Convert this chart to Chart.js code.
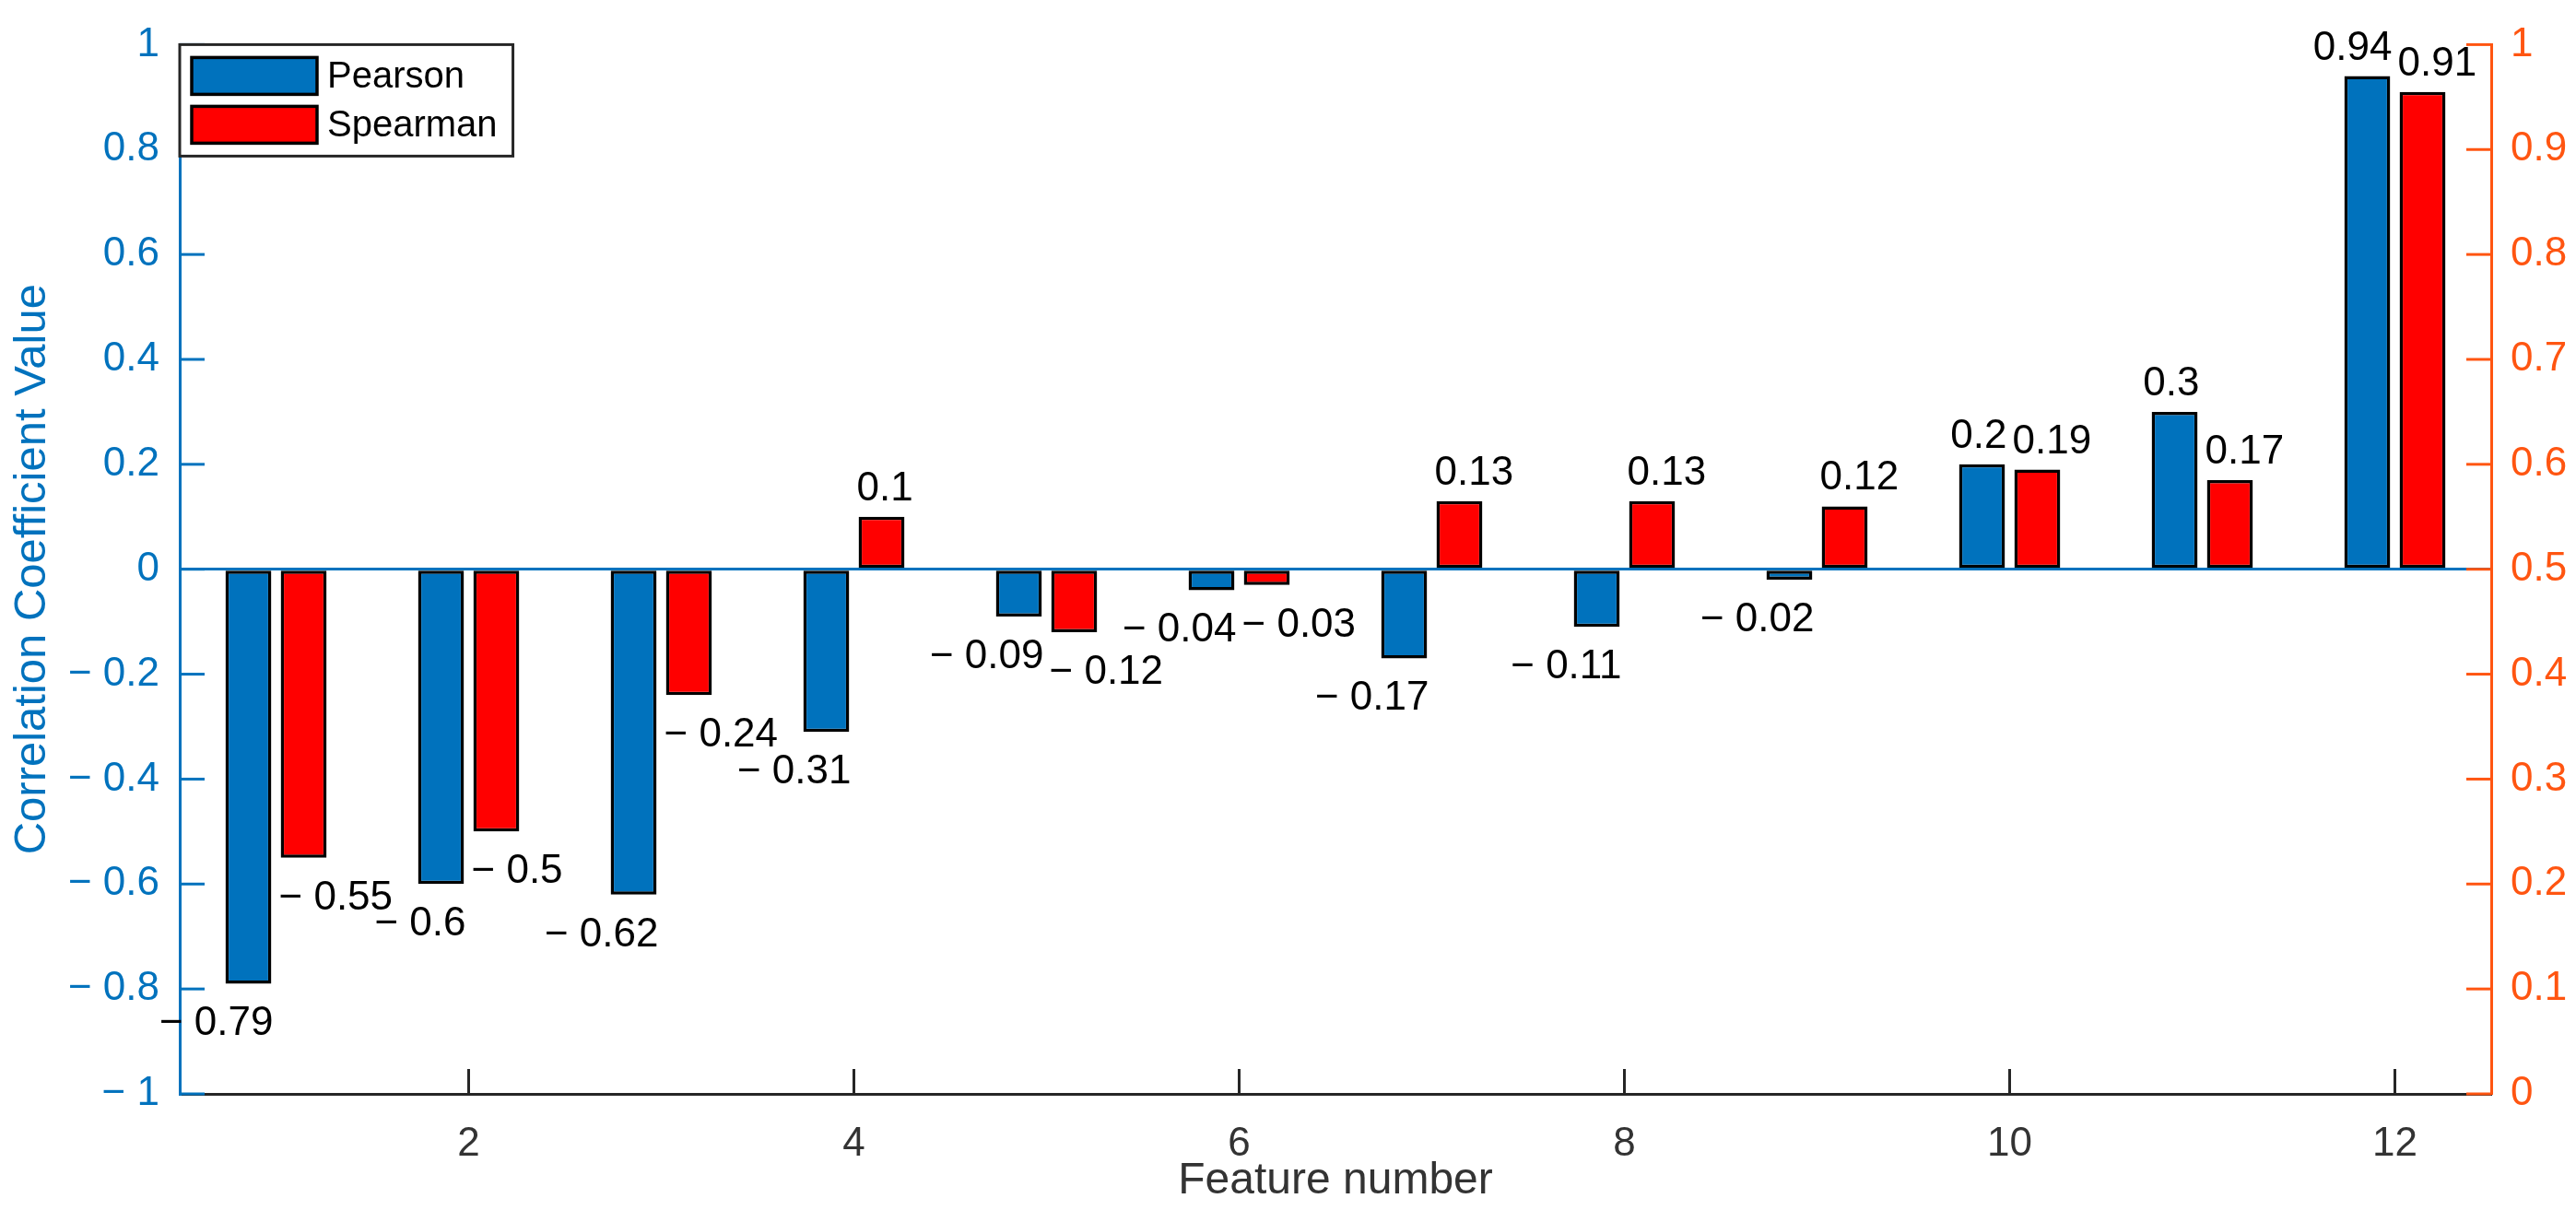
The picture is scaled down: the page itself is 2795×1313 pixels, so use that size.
<!DOCTYPE html>
<html>
<head>
<meta charset="utf-8">
<script src="https://cdn.jsdelivr.net/npm/chart.js@4.4.0/dist/chart.umd.min.js"></script>
<style>
  html, body { margin: 0; padding: 0; background: #fff; }
  #wrap { width: 2795px; height: 1313px; }
</style>
</head>
<body>
<div id="wrap"><canvas id="myChart" width="2795" height="1313"></canvas></div>
<script>
var features = ['1', '2', '3', '4', '5', '6', '7', '8', '9', '10', '11', '12'];
var pearson = [-0.79, -0.6, -0.62, -0.31, -0.09, -0.04, -0.17, -0.11, -0.02, 0.2, 0.3, 0.94];
var spearman = [-0.55, -0.5, -0.24, 0.1, -0.12, -0.03, 0.13, 0.13, 0.12, 0.19, 0.17, 0.91];
var leftTicks = [-1, -0.8, -0.6, -0.4, -0.2, 0, 0.2, 0.4, 0.6, 0.8, 1];
var rightTicks = [0, 0.1, 0.2, 0.3, 0.4, 0.5, 0.6, 0.7, 0.8, 0.9, 1];

var BLUE = '#0072BD';
var ORANGE = '#FF5511';
var AXIS = '#262626';

Chart.defaults.font.family = "'Liberation Sans', Arial, sans-serif";

function fmt(v) {
    v = Math.round(v * 100) / 100;
    if (v < 0) return '\u2212 ' + Math.abs(v);
    return String(v);
}

// MATLAB style: ticks point into the plot
var innerTicks = {
    id: 'innerTicks',
    afterDraw: function (chart) {
        var ctx = chart.ctx, a = chart.chartArea, len = 27;
        ctx.save();
        ctx.lineWidth = 3;
        function seg(x1, y1, x2, y2) {
            ctx.beginPath(); ctx.moveTo(x1, y1); ctx.lineTo(x2, y2); ctx.stroke();
        }
        var sx = chart.scales.x;
        ctx.strokeStyle = AXIS;
        sx.ticks.forEach(function (t, i) {
            if ((i + 1) % 2) return;
            var px = sx.getPixelForTick(i);
            seg(px, a.bottom, px, a.bottom - len);
        });
        ctx.strokeStyle = BLUE;
        chart.scales.y.ticks.forEach(function (t) {
            var py = chart.scales.y.getPixelForValue(t.value);
            seg(a.left, py, a.left + len, py);
        });
        ctx.strokeStyle = ORANGE;
        chart.scales.y2.ticks.forEach(function (t) {
            var py = chart.scales.y2.getPixelForValue(t.value);
            seg(a.right, py, a.right - len, py);
        });
        ctx.restore();
    }
};

// value labels: Pearson ones end at the group centre, Spearman ones start there
var valueLabels = {
    id: 'valueLabels',
    afterDatasetsDraw: function (chart) {
        var ctx = chart.ctx, sx = chart.scales.x;
        ctx.save();
        ctx.font = "44px 'Liberation Sans', Arial, sans-serif";
        ctx.fillStyle = '#000';
        ctx.textBaseline = 'alphabetic';
        chart.data.datasets.forEach(function (ds, di) {
            chart.getDatasetMeta(di).data.forEach(function (bar, i) {
                var v = ds.data[i];
                var cx = sx.getPixelForValue(i);
                var y = v >= 0 ? bar.y - 18 : bar.y + 56;
                ctx.textAlign = di === 0 ? 'right' : 'left';
                ctx.fillText(fmt(v), di === 0 ? cx - 3 : cx + 3, y);
            });
        });
        ctx.restore();
    }
};

var boxLegend = {
    id: 'boxLegend',
    afterDraw: function (chart) {
        var ctx = chart.ctx, a = chart.chartArea;
        var x0 = a.left, y0 = a.top;
        ctx.save();
        ctx.font = "40px 'Liberation Sans', Arial, sans-serif";
        var tw = 0;
        chart.data.datasets.forEach(function (ds) { tw = Math.max(tw, ctx.measureText(ds.label).width); });
        var w = 13 + 136 + 11 + tw + 17, h = 121;
        ctx.fillStyle = '#fff';
        ctx.fillRect(x0, y0, w, h);
        ctx.lineWidth = 3;
        ctx.strokeStyle = AXIS;
        ctx.strokeRect(x0, y0, w, h);
        chart.data.datasets.forEach(function (ds, i) {
            var sy = y0 + 14 + i * 53;
            ctx.fillStyle = ds.backgroundColor;
            ctx.fillRect(x0 + 13, sy, 136, 40);
            ctx.lineWidth = 3.5;
            ctx.strokeStyle = '#000';
            ctx.strokeRect(x0 + 13, sy, 136, 40);
            ctx.fillStyle = '#000';
            ctx.textBaseline = 'middle';
            ctx.textAlign = 'left';
            ctx.fillText(ds.label, x0 + 160, sy + 22);
        });
        ctx.restore();
    }
};

var ctx = document.getElementById('myChart');
var myChart = new Chart(ctx, {
    type: 'bar',
    data: {
        labels: features,
        datasets: [{
            label: 'Pearson',
            data: pearson,
            backgroundColor: BLUE,
            borderColor: '#000',
            borderWidth: 3.5,
            borderSkipped: false,
            yAxisID: 'y'
        }, {
            label: 'Spearman',
            data: spearman,
            backgroundColor: '#FF0000',
            borderColor: '#000',
            borderWidth: 3.5,
            borderSkipped: false,
            yAxisID: 'y'
        }]
    },
    options: {
        responsive: false,
        animation: false,
        devicePixelRatio: 1,
        categoryPercentage: 0.574,
        barPercentage: 0.83,
        layout: { padding: { top: 33, left: 0, right: 0, bottom: 0 } },
        plugins: {
            legend: { display: false },
            tooltip: { enabled: false }
        },
        scales: {
            x: {
                grid: { display: true, drawOnChartArea: false, drawTicks: false },
                border: { color: AXIS, width: 3 },
                ticks: {
                    color: '#333',
                    font: { size: 44 },
                    padding: 28,
                    maxRotation: 0,
                    autoSkip: false,
                    callback: function (val, i) { return (i + 1) % 2 ? '' : features[i]; }
                },
                title: {
                    display: true, text: 'Feature number', color: '#333',
                    font: { size: 48 }, padding: { top: 0, bottom: 2 }
                },
                afterFit: function (s) { s.height = 126; }
            },
            y: {
                position: 'left',
                min: -1, max: 1,
                afterBuildTicks: function (s) { s.ticks = leftTicks.map(function (v) { return { value: v }; }); },
                grid: {
                    drawTicks: false,
                    lineWidth: 3,
                    color: function (c) { return c.tick && c.tick.value === 0 ? BLUE : 'rgba(0,0,0,0)'; }
                },
                border: { color: BLUE, width: 3 },
                ticks: {
                    color: BLUE, font: { size: 44 }, padding: 22,
                    callback: function (v) { return fmt(v); }
                },
                title: {
                    display: true, text: 'Correlation Coefficient Value', color: BLUE,
                    font: { size: 49 }, padding: { top: 6, bottom: 0 }
                },
                afterFit: function (s) { s.width = 195; }
            },
            y2: {
                position: 'right',
                min: 0, max: 1,
                afterBuildTicks: function (s) { s.ticks = rightTicks.map(function (v) { return { value: v }; }); },
                grid: { display: true, drawOnChartArea: false, drawTicks: false },
                border: { color: ORANGE, width: 3 },
                ticks: {
                    color: ORANGE, font: { size: 44 }, padding: 21,
                    callback: function (v) { return fmt(v); }
                },
                afterFit: function (s) { s.width = 92; }
            }
        }
    },
    plugins: [valueLabels, innerTicks, boxLegend]
});
</script>
</body>
</html>
